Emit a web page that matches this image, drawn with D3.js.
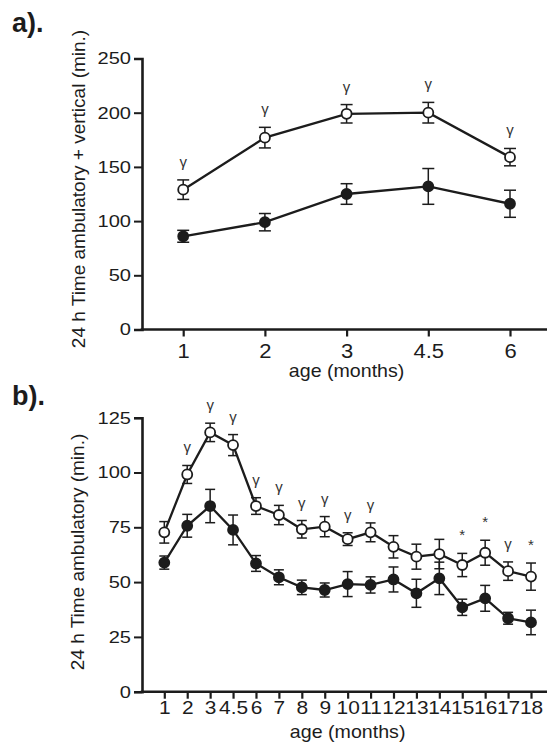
<!DOCTYPE html>
<html>
<head>
<meta charset="utf-8">
<script src="https://cdn.jsdelivr.net/npm/d3@7/dist/d3.min.js"></script>
<style>
  html, body { margin: 0; padding: 0; background: #fff; }
  svg { display: block; font-family: "Liberation Sans", Arial, sans-serif; }
</style>
</head>
<body>
<div id="chart"></div>
<script>
// panel a: 24 h time ambulatory + vertical
const monthsA = ["1", "2", "3", "4.5", "6"];
const openA = [129, 177, 199, 200, 159];
const openAErr = [9, 9.5, 8.5, 9.5, 8];
const filledA = [86, 99, 125, 132, 116];
const filledAErr = [5.5, 8, 9.5, 16.5, 12.5];
const marksA = ["γ", "γ", "γ", "γ", "γ"];
const yTicksA = [0, 50, 100, 150, 200, 250];

// panel b: 24 h time ambulatory
const monthsB = ["1", "2", "3", "4.5", "6", "7", "8", "9", "10", "11", "12", "13", "14", "15", "16", "17", "18"];
const openB = [72.7, 99.1, 118.3, 112.5, 84.7, 80.6, 74.1, 75.3, 69.6, 72.7, 66.1, 61.6, 62.8, 57.8, 63.4, 55.0, 52.5];
const openBErr = [4.9, 4.1, 4.2, 4.8, 3.8, 4.4, 4.0, 4.6, 2.9, 4.3, 5.1, 5.7, 6.7, 5.3, 5.7, 4.2, 6.2];
const filledB = [58.9, 75.7, 84.7, 73.8, 58.5, 52.2, 47.6, 46.4, 49.1, 48.7, 51.2, 44.9, 51.7, 38.5, 42.6, 33.5, 31.6];
const filledBErr = [3.0, 5.2, 7.6, 6.8, 3.6, 3.4, 3.3, 3.2, 5.7, 3.7, 5.7, 6.4, 7.4, 3.7, 5.9, 2.7, 5.6];
const marksB = ["", "γ", "γ", "γ", "γ", "γ", "γ", "γ", "γ", "γ", "", "", "", "*", "*", "γ", "*"];
const yTicksB = [0, 25, 50, 75, 100, 125];

const width = 547, height = 748;
const ink = "#1c1c1c";

const svg = d3.select("#chart").append("svg")
    .attr("width", width)
    .attr("height", height);

// widen glyphs a little, the reference text is drawn slightly stretched
function stretch(sel, k) {
    sel.each(function() {
        const w = this.getComputedTextLength();
        d3.select(this).attr("textLength", w * k).attr("lengthAdjust", "spacingAndGlyphs");
    });
}

function drawPanel(p) {
    const g = svg.append("g");

    const x = d3.scalePoint().domain(p.months).range(p.xRange);
    const y = d3.scaleLinear().domain(p.yDomain).range(p.yRange);

    // y axis
    const yAxis = g.append("g")
        .attr("transform", `translate(${p.axisX},0)`)
        .call(d3.axisLeft(y).tickValues(p.yTicks).tickSize(8).tickPadding(3).tickSizeOuter(8));
    yAxis.select(".domain").attr("stroke", ink).attr("stroke-width", 2.6);
    yAxis.selectAll(".tick line").attr("stroke", ink).attr("stroke-width", 2);
    yAxis.selectAll(".tick text")
        .attr("fill", ink)
        .attr("font-size", 17)
        .call(stretch, 1.18);

    // x axis
    const xAxis = g.append("g")
        .attr("transform", `translate(0,${p.yRange[0]})`)
        .call(d3.axisBottom(x).tickSize(7).tickSizeOuter(0));
    xAxis.select(".domain").remove();
    xAxis.selectAll(".tick line").attr("stroke", ink).attr("stroke-width", 2.2);
    xAxis.selectAll(".tick text")
        .attr("fill", ink)
        .attr("font-size", p.xFont)
        .attr("dy", 0)
        .attr("y", p.xLabelOffset)
        .call(stretch, 1.1);
    g.append("line")
        .attr("x1", p.axisX - 1.3).attr("x2", width)
        .attr("y1", p.yRange[0]).attr("y2", p.yRange[0])
        .attr("stroke", ink).attr("stroke-width", 2.6);

    // axis titles
    g.append("text")
        .attr("x", (p.xRange[0] + p.xRange[1]) / 2)
        .attr("y", p.xTitleY)
        .attr("text-anchor", "middle")
        .attr("font-size", 18.5)
        .attr("fill", ink)
        .text("age (months)")
        .call(stretch, 1.06);

    g.append("text")
        .attr("transform", `translate(${p.yTitleX},${p.yTitleY}) rotate(-90)`)
        .attr("text-anchor", "middle")
        .attr("font-size", 19)
        .attr("fill", ink)
        .text(p.yTitle);

    g.append("text")
        .attr("x", 12)
        .attr("y", p.tagY)
        .attr("font-size", 27)
        .attr("font-weight", "bold")
        .attr("fill", ink)
        .text(p.tag);

    const series = [
        { values: p.open, err: p.openErr, fill: "#fff" },
        { values: p.filled, err: p.filledErr, fill: ink }
    ];

    const line = d3.line()
        .x((d, i) => x(p.months[i]))
        .y(d => y(d));

    series.forEach(s => {
        g.append("path")
            .datum(s.values)
            .attr("fill", "none")
            .attr("stroke", ink)
            .attr("stroke-width", 2.3)
            .attr("d", line);

        const bars = g.append("g")
            .attr("stroke", ink)
            .attr("stroke-width", 1.5)
            .selectAll("g")
            .data(s.values.map((v, i) => ({ v, e: s.err[i], m: p.months[i] })))
            .join("g");
        bars.append("line")
            .attr("x1", d => x(d.m)).attr("x2", d => x(d.m))
            .attr("y1", d => y(d.v - d.e)).attr("y2", d => y(d.v + d.e));
        bars.append("line")
            .attr("x1", d => x(d.m) - p.cap).attr("x2", d => x(d.m) + p.cap)
            .attr("y1", d => y(d.v + d.e)).attr("y2", d => y(d.v + d.e));
        bars.append("line")
            .attr("x1", d => x(d.m) - p.cap).attr("x2", d => x(d.m) + p.cap)
            .attr("y1", d => y(d.v - d.e)).attr("y2", d => y(d.v - d.e));
    });

    series.forEach(s => {
        g.append("g")
            .selectAll("circle")
            .data(s.values)
            .join("circle")
            .attr("cx", (d, i) => x(p.months[i]))
            .attr("cy", d => y(d))
            .attr("r", 5)
            .attr("fill", s.fill)
            .attr("stroke", ink)
            .attr("stroke-width", 1.8);
    });

    // significance marks above the open series
    g.append("g")
        .selectAll("text")
        .data(p.marks)
        .join("text")
        .attr("x", (d, i) => x(p.months[i]))
        .attr("y", (d, i) => y(p.open[i] + p.openErr[i]) - 13)
        .attr("text-anchor", "middle")
        .attr("font-size", 15)
        .attr("fill", "#333")
        .text(d => d);
}

drawPanel({
    tag: "a).", tagY: 32,
    months: monthsA, open: openA, openErr: openAErr,
    filled: filledA, filledErr: filledAErr, marks: marksA,
    yTicks: yTicksA, yDomain: [0, 250], yRange: [329.5, 58.5],
    xRange: [183.2, 510], axisX: 142,
    xFont: 20, xLabelOffset: 28.5, xTitleY: 377,
    yTitle: "24 h Time ambulatory + vertical (min.)", yTitleX: 85, yTitleY: 189,
    cap: 6
});

drawPanel({
    tag: "b).", tagY: 405,
    months: monthsB, open: openB, openErr: openBErr,
    filled: filledB, filledErr: filledBErr, marks: marksB,
    yTicks: yTicksB, yDomain: [0, 125], yRange: [691.7, 417.7],
    xRange: [164.3, 531], axisX: 142,
    xFont: 19, xLabelOffset: 22.3, xTitleY: 738,
    yTitle: "24 h Time ambulatory (min.)", yTitleX: 84, yTitleY: 552,
    cap: 5
});
</script>
</body>
</html>
